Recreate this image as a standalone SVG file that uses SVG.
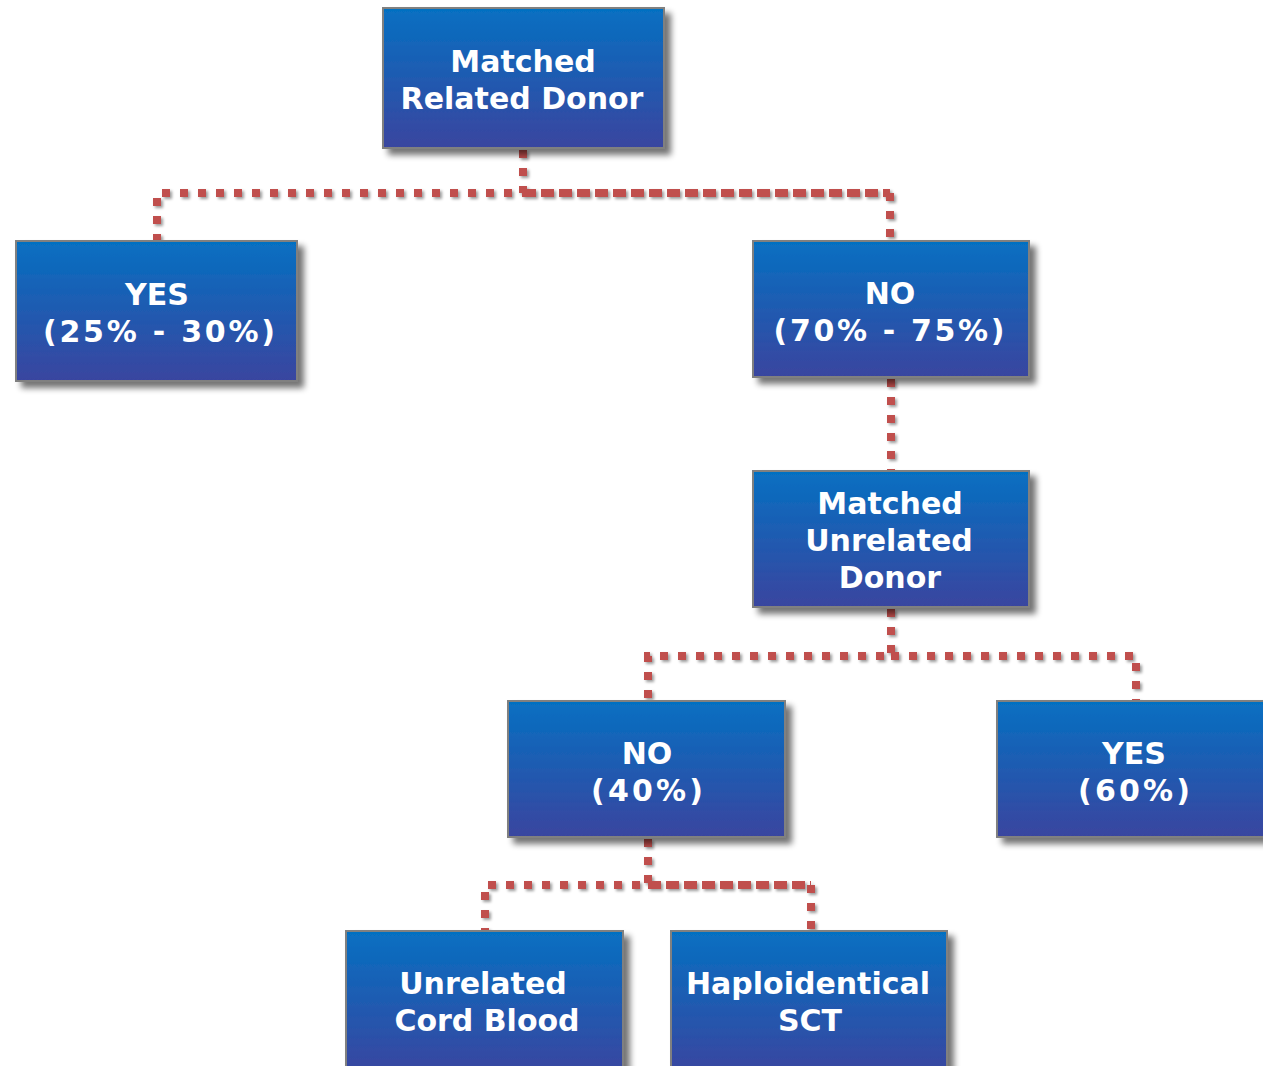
<svg xmlns="http://www.w3.org/2000/svg" width="1263" height="1066" viewBox="0 0 1263 1066">
<defs>
<linearGradient id="g" x1="0" y1="0" x2="0" y2="1">
<stop offset="0" stop-color="#0570c2"/>
<stop offset="1" stop-color="#3a459f"/>
</linearGradient>
<filter id="sh" x="-10%" y="-10%" width="130%" height="130%">
<feGaussianBlur in="SourceAlpha" stdDeviation="3"/>
<feOffset dx="6" dy="6" result="b"/>
<feComponentTransfer><feFuncA type="linear" slope="0.55"/></feComponentTransfer>
<feMerge><feMergeNode/><feMergeNode in="SourceGraphic"/></feMerge>
</filter>
<filter id="shl" x="-10%" y="-10%" width="130%" height="130%">
<feGaussianBlur in="SourceAlpha" stdDeviation="1.5"/>
<feOffset dx="2" dy="2" result="b"/>
<feComponentTransfer><feFuncA type="linear" slope="0.4"/></feComponentTransfer>
<feMerge><feMergeNode/><feMergeNode in="SourceGraphic"/></feMerge>
</filter>
</defs>
<style>
.box{fill:url(#g);stroke:#808080;stroke-width:2;filter:url(#sh)}
.t{font-family:"DejaVu Sans","Verdana",sans-serif;font-weight:bold;font-size:30px;fill:#ffffff;text-anchor:middle}
.c{fill:none;stroke:#c0504d;stroke-width:8;stroke-dasharray:8 10}
.d{fill:none;stroke:#c0504d;stroke-width:8;stroke-dasharray:13 5}
</style>
<g id="connectors" filter="url(#shl)">
<path class="c" d="M523 150 V193 H157 V240"/>
<path class="d" d="M523 193 H890"/>
<path class="c" d="M890 193 V240"/>
<path class="c" d="M891 379 V470"/>
<path class="c" d="M891 609 V656 H648 V700"/>
<path class="c" d="M891 656 H1136 V700"/>
<path class="c" d="M648 839 V885 H485 V930"/>
<path class="d" d="M648 885 H811"/>
<path class="c" d="M811 885 V930"/>
</g>
<g id="n1"><rect class="box" x="383" y="8" width="281" height="140"/>
<text class="t" x="523" y="72">Matched</text><text class="t" x="522" y="109">Related Donor</text></g>
<g id="n2"><rect class="box" x="16" y="241" width="281" height="140"/>
<text class="t" x="157" y="305">YES</text><text class="t" x="159" y="342" textLength="232" lengthAdjust="spacing">(25% - 30%)</text></g>
<g id="n3"><rect class="box" x="753" y="241" width="276" height="136"/>
<text class="t" x="890" y="304">NO</text><text class="t" x="889" y="341" textLength="231" lengthAdjust="spacing">(70% - 75%)</text></g>
<g id="n4"><rect class="box" x="753" y="471" width="276" height="136"/>
<text class="t" x="890" y="514">Matched</text><text class="t" x="889" y="551">Unrelated</text><text class="t" x="890" y="588">Donor</text></g>
<g id="n5"><rect class="box" x="508" y="701" width="277" height="136"/>
<text class="t" x="647" y="764">NO</text><text class="t" x="647" y="801" textLength="112" lengthAdjust="spacing">(40%)</text></g>
<g id="n6"><rect class="box" x="997" y="701" width="280" height="136"/>
<text class="t" x="1134" y="764">YES</text><text class="t" x="1134" y="801" textLength="112" lengthAdjust="spacing">(60%)</text></g>
<g id="n7"><rect class="box" x="346" y="931" width="277" height="145"/>
<text class="t" x="483" y="994">Unrelated</text><text class="t" x="487" y="1031">Cord Blood</text></g>
<g id="n8"><rect class="box" x="671" y="931" width="276" height="145"/>
<text class="t" x="808" y="994">Haploidentical</text><text class="t" x="810" y="1031">SCT</text></g>
</svg>
